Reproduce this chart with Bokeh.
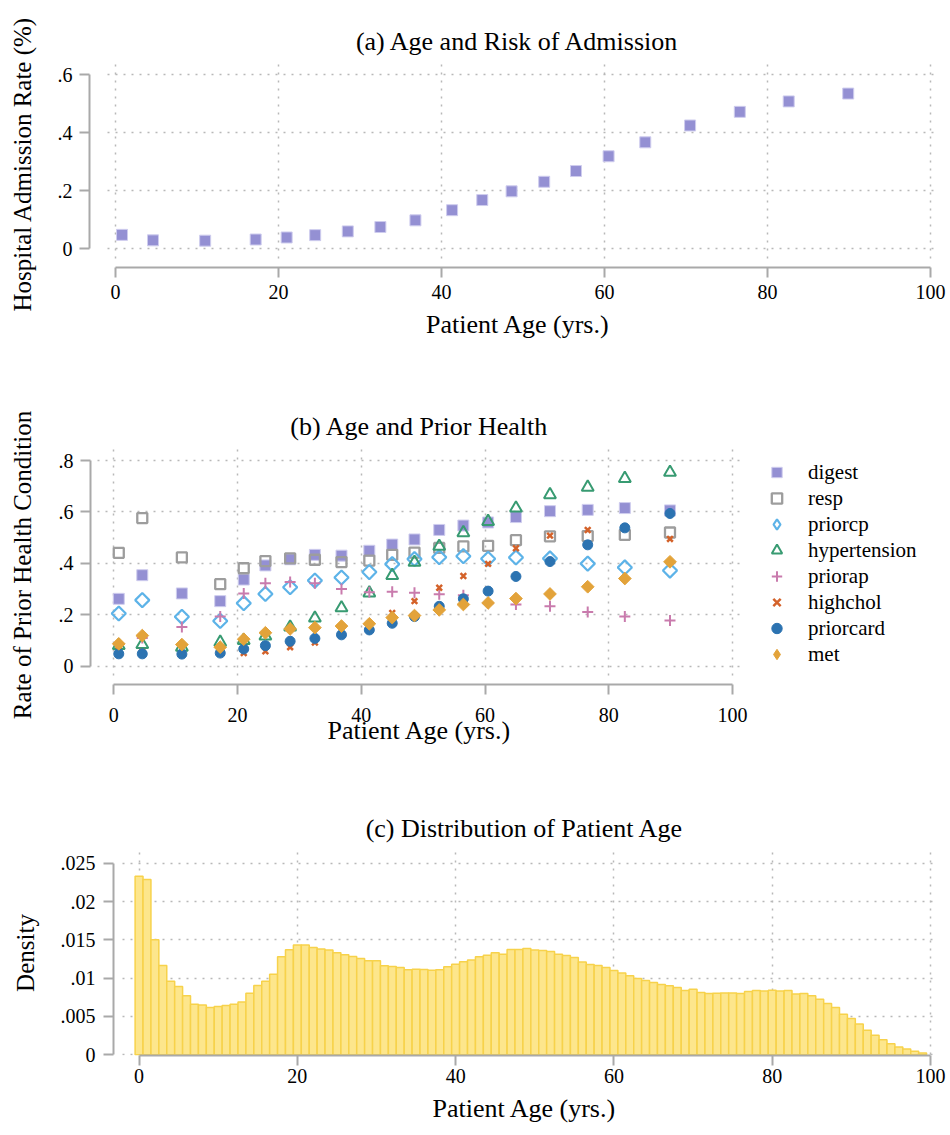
import math

from bokeh.embed import file_html
from bokeh.models import CustomJSTickFormatter, FixedTicker, Legend, LegendItem, Range1d
from bokeh.plotting import figure
from bokeh.resources import INLINE

FONT = "Liberation Serif"
AXIS_GRAY = "#A9A9A9"
GRID_GRAY = "#B8B8B8"

# ---- binned means by patient age (20 bins) ----
bin_age = [0.8, 4.6, 11.0, 17.2, 21.0, 24.5, 28.5, 32.5, 36.8, 41.3,
           45.0, 48.6, 52.6, 56.5, 60.5, 65.0, 70.5, 76.6, 82.6, 89.9]

admit_rate = [0.048, 0.029, 0.028, 0.032, 0.039, 0.047, 0.060, 0.075, 0.098, 0.133,
              0.168, 0.198, 0.231, 0.268, 0.319, 0.367, 0.425, 0.472, 0.508, 0.535]

digest = [0.262, 0.354, 0.283, 0.253, 0.337, 0.392, 0.416, 0.433, 0.430, 0.449,
          0.473, 0.493, 0.530, 0.547, 0.559, 0.580, 0.603, 0.608, 0.615, 0.606]
resp = [0.441, 0.576, 0.423, 0.319, 0.381, 0.409, 0.419, 0.414, 0.405, 0.411,
        0.433, 0.442, 0.460, 0.466, 0.468, 0.490, 0.505, 0.506, 0.511, 0.520]
priorcp = [0.205, 0.257, 0.192, 0.176, 0.245, 0.281, 0.307, 0.333, 0.345, 0.366,
           0.397, 0.417, 0.424, 0.428, 0.418, 0.423, 0.419, 0.399, 0.384, 0.372]
hypertension = [0.080, 0.084, 0.074, 0.093, 0.100, 0.117, 0.152, 0.187, 0.227, 0.285,
                0.353, 0.404, 0.466, 0.519, 0.563, 0.615, 0.667, 0.696, 0.730, 0.754]
priorap = [0.085, 0.110, 0.152, 0.193, 0.283, 0.323, 0.327, 0.323, 0.300, 0.288,
           0.290, 0.286, 0.280, 0.276, 0.245, 0.240, 0.233, 0.211, 0.193, 0.178]
highchol = [0.065, 0.055, 0.050, 0.052, 0.051, 0.058, 0.074, 0.092, 0.125, 0.160,
            0.207, 0.253, 0.305, 0.351, 0.398, 0.459, 0.508, 0.530, 0.535, 0.495]
priorcard = [0.048, 0.048, 0.047, 0.051, 0.067, 0.080, 0.097, 0.108, 0.122, 0.141,
             0.167, 0.193, 0.233, 0.262, 0.292, 0.349, 0.407, 0.472, 0.538, 0.594]
met = [0.087, 0.119, 0.084, 0.074, 0.105, 0.130, 0.145, 0.150, 0.156, 0.165,
       0.189, 0.197, 0.219, 0.240, 0.246, 0.263, 0.281, 0.309, 0.341, 0.406]

# ---- age histogram (one-year bins, ages 0..99) ----
hist_age = list(range(100))
hist_density = [
    0.02330, 0.02286, 0.01500, 0.01165, 0.00960, 0.00890, 0.00768, 0.00659, 0.00650, 0.00615,
    0.00628, 0.00641, 0.00659, 0.00689, 0.00803, 0.00903, 0.00960, 0.01051, 0.01278, 0.01370,
    0.01431, 0.01431, 0.01400, 0.01379, 0.01366, 0.01331, 0.01305, 0.01283, 0.01257, 0.01226,
    0.01226, 0.01161, 0.01152, 0.01139, 0.01108, 0.01117, 0.01113, 0.01104, 0.01108, 0.01148,
    0.01182, 0.01213, 0.01235, 0.01278, 0.01300, 0.01331, 0.01313, 0.01374, 0.01372, 0.01387,
    0.01366, 0.01361, 0.01348, 0.01313, 0.01296, 0.01270, 0.01209, 0.01178, 0.01165, 0.01139,
    0.01100, 0.01065, 0.01030, 0.00995, 0.00969, 0.00942, 0.00916, 0.00899, 0.00877, 0.00838,
    0.00855, 0.00812, 0.00798, 0.00803, 0.00807, 0.00807, 0.00798, 0.00825, 0.00838, 0.00833,
    0.00842, 0.00833, 0.00838, 0.00794, 0.00798, 0.00768, 0.00724, 0.00668, 0.00615, 0.00528,
    0.00471, 0.00401, 0.00318, 0.00253, 0.00196, 0.00144, 0.00100, 0.00074, 0.00044, 0.00022,
]

age_ticks = [0, 20, 40, 60, 80, 100]
admit_ticks = [0, 0.2, 0.4, 0.6]
prior_ticks = [0, 0.2, 0.4, 0.6, 0.8]
density_ticks = [0, 0.005, 0.01, 0.015, 0.02, 0.025]

# numbers written without a leading zero: .2, .025, 0, 20
short_num = CustomJSTickFormatter(code="""
    const s = String(Number(tick.toFixed(4)));
    return s.replace(/^0\\./, ".").replace(/^-0\\./, "-.");
""")


def make_panel(title, width, height, borders, x_range, y_range, title_standoff):
    left, right, top, bottom = borders
    p = figure(width=width, height=height,
               frame_width=width - left - right, frame_height=height - top - bottom,
               title=title, sizing_mode="fixed",
               x_range=Range1d(*x_range), y_range=Range1d(*y_range),
               output_backend="svg", toolbar_location=None,
               min_border_left=left, min_border_right=right,
               min_border_top=top, min_border_bottom=bottom)
    p.outline_line_color = None
    p.background_fill_color = "white"
    p.border_fill_color = "white"
    p.title.align = "center"
    p.title.text_font = FONT
    p.title.text_font_size = "26px"
    p.title.text_font_style = "normal"
    p.title.text_color = "black"
    p.title.standoff = title_standoff
    return p


def style_axes(p, xticks, yticks, xlabel, ylabel, grid_x_span, grid_y_span,
               x_label_standoff, x_title_standoff, y_label_standoff, y_title_standoff):
    p.xaxis.ticker = FixedTicker(ticks=xticks)
    p.yaxis.ticker = FixedTicker(ticks=yticks)
    p.xaxis.bounds = (xticks[0], xticks[-1])
    p.yaxis.bounds = (yticks[0], yticks[-1])
    p.xaxis.formatter = short_num
    p.yaxis.formatter = short_num
    p.xaxis.axis_label = xlabel
    p.yaxis.axis_label = ylabel
    for ax in (p.xaxis, p.yaxis):
        ax.axis_line_color = AXIS_GRAY
        ax.axis_line_width = 2
        ax.major_tick_line_color = AXIS_GRAY
        ax.major_tick_line_width = 2
        ax.major_tick_out = 10
        ax.major_tick_in = 0
        ax.minor_tick_line_color = None
        ax.major_label_text_font = FONT
        ax.major_label_text_font_size = "20px"
        ax.major_label_text_color = "black"
        ax.axis_label_text_font = FONT
        ax.axis_label_text_font_style = "normal"
        ax.axis_label_text_color = "black"
    p.xaxis.axis_label_text_font_size = "26px"
    p.yaxis.axis_label_text_font_size = "25px"
    p.xaxis.major_label_standoff = x_label_standoff
    p.xaxis.axis_label_standoff = x_title_standoff
    p.yaxis.major_label_standoff = y_label_standoff
    p.yaxis.axis_label_standoff = y_title_standoff
    p.yaxis.major_label_orientation = "horizontal"
    for g in (p.xgrid, p.ygrid):
        g.grid_line_color = GRID_GRAY
        g.grid_line_width = 1.5
        g.grid_line_dash = "2 6"
    # dotted grid stops short of the offset axes
    p.xgrid.cross_bounds = grid_y_span
    p.ygrid.cross_bounds = grid_x_span


# ---------------- (a) admission rate by age ----------------
pa = make_panel("(a) Age and Risk of Admission", 950, 375, (89, 4, 60, 108),
                (-3.19, 101.96), (-0.0645, 0.649), 9)
style_axes(pa, age_ticks, admit_ticks, "Patient Age (yrs.)", "Hospital Admission Rate (%)",
           (-1.0, 100.5), (-0.033, 0.649), 7, 8, 7, 19)
pa.scatter(bin_age, admit_rate, marker="square", size=11,
           fill_color="#9490D3", line_color="#CFCDEE", line_width=1)

# ---------------- (b) prior conditions by age ----------------
pb = make_panel("(b) Age and Prior Health", 950, 400, (90, 202, 70, 91),
                (-3.77, 102.59), (-0.0712, 0.8584), 9)
style_axes(pb, age_ticks, prior_ticks, "Patient Age (yrs.)", "Rate of Prior Health Condition",
           (-2.68, 101.3), (-0.036, 0.8584), 13, -9, 7, 20)

series = [
    ("digest", digest, "square", dict(size=11, fill_color="#9490D3",
                                      line_color="#CFCDEE", line_width=1)),
    ("resp", resp, "square", dict(size=10, fill_color=None,
                                  line_color="#9D9D9D", line_width=2.3)),
    ("priorcp", priorcp, "diamond", dict(size=10, fill_color=None,
                                         line_color="#5DB3E8", line_width=2.2)),
    ("hypertension", hypertension, "triangle", dict(size=12, fill_color=None,
                                                    line_color="#389B72", line_width=2)),
    ("priorap", priorap, "cross", dict(size=11, line_color="#C97BAD", line_width=2)),
    ("highchol", highchol, "x", dict(size=8, line_color="#D4622A", line_width=2.5)),
    ("priorcard", priorcard, "circle", dict(size=10, fill_color="#2C73B1",
                                            line_color="#2C73B1", line_width=1)),
    ("met", met, "diamond", dict(size=9, fill_color="#E3A33A",
                                 line_color="#E3A33A", line_width=1)),
]
items = []
for name, vals, marker, style in series:
    if marker == "diamond":
        # plotted as a square turned 45 degrees; the legend key uses the diamond marker
        r = pb.scatter(bin_age, vals, marker="square", angle=math.pi / 4, **style)
        key_style = dict(style)
        key_style["size"] = style["size"] * 1.4
        key = pb.scatter(bin_age, vals, marker="diamond", visible=False, **key_style)
        items.append(LegendItem(label=name, renderers=[key]))
    else:
        r = pb.scatter(bin_age, vals, marker=marker, **style)
        items.append(LegendItem(label=name, renderers=[r]))

legend = Legend(items=items, location="top_left", margin=14,
                glyph_width=29, glyph_height=26, label_height=26, spacing=0,
                label_standoff=17, label_text_font=FONT, label_text_font_size="21px",
                label_text_color="black", background_fill_alpha=0,
                border_line_color=None, inactive_fill_alpha=0)
pb.add_layout(legend, "right")

# ---------------- (c) age distribution ----------------
pc = make_panel("(c) Distribution of Patient Age", 950, 360, (113, 15, 75, 80),
                (-3.23, 100.63), (-0.000105, 0.02666), 16)
style_axes(pc, age_ticks, density_ticks, "Patient Age (yrs.)", "Density",
           (-2.1, 100.63), (0.0, 0.02666), 3, 8, 8, 19)
pc.vbar(x=hist_age, top=hist_density, bottom=0, width=1.0,
        fill_color="#FDE68C", line_color="#F7D24B", line_width=1.5)

# three stacked panels, each its own root so no layout aligns their frames
with open("out.html", "w") as f:
    f.write(file_html([pa, pb, pc], INLINE))
